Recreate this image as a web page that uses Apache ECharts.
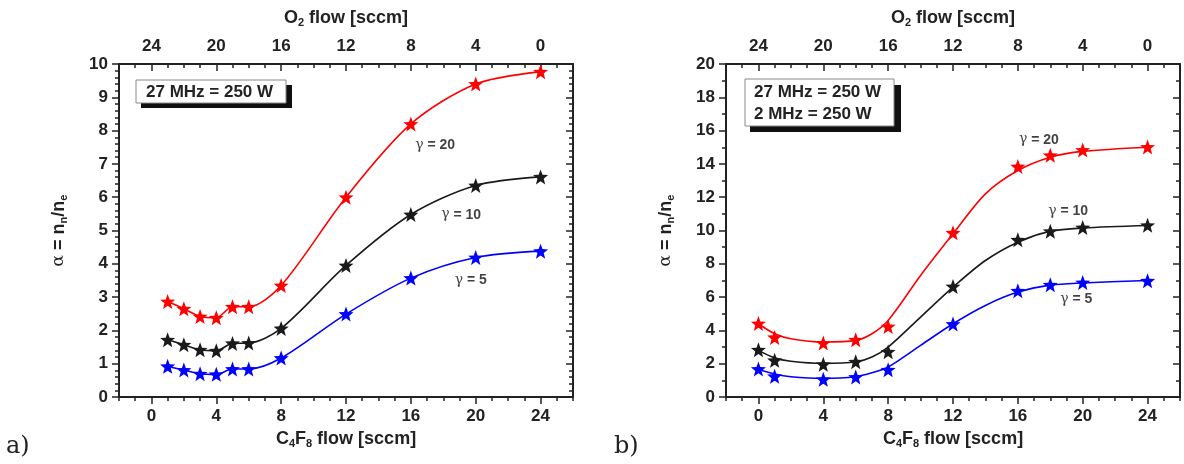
<!DOCTYPE html>
<html>
<head>
<meta charset="utf-8">
<script src="https://cdn.jsdelivr.net/npm/echarts@6.0.0/dist/echarts.min.js"></script>
<style>
  html, body { margin: 0; padding: 0; background: #fff; }
  #chart { width: 1184px; height: 464px; }
</style>
</head>
<body>
<div id="chart"></div>
<script>
// ---- values ----
// bottom axis = C4F8 flow, top axis = O2 flow (O2 = 24 - C4F8)
var c4f8Ticks = [0, 4, 8, 12, 16, 20, 24];
var o2Ticks = [24, 20, 16, 12, 8, 4, 0];
var yTicksA = [0, 1, 2, 3, 4, 5, 6, 7, 8, 9, 10];
var yTicksB = [0, 2, 4, 6, 8, 10, 12, 14, 16, 18, 20];

// a) 27 MHz = 250 W
var flowA = [1, 2, 3, 4, 5, 6, 8, 12, 16, 20, 24];
var alphaA20 = [2.87, 2.65, 2.42, 2.38, 2.71, 2.71, 3.35, 6.0, 8.2, 9.4, 9.77];
var alphaA10 = [1.72, 1.57, 1.42, 1.39, 1.61, 1.62, 2.06, 3.95, 5.48, 6.35, 6.61];
var alphaA5 = [0.92, 0.81, 0.70, 0.68, 0.84, 0.84, 1.17, 2.49, 3.57, 4.19, 4.38];

// b) 27 MHz = 250 W, 2 MHz = 250 W
var flowB = [0, 1, 4, 6, 8, 12, 16, 18, 20, 24];
var alphaB20 = [4.42, 3.58, 3.24, 3.44, 4.24, 9.86, 13.84, 14.52, 14.84, 15.02];
var alphaB10 = [2.84, 2.2, 1.96, 2.12, 2.72, 6.64, 9.44, 9.96, 10.18, 10.32];
var alphaB5 = [1.68, 1.24, 1.06, 1.2, 1.64, 4.38, 6.38, 6.74, 6.88, 6.98];
// fitted curves drawn in panel b
var fitFlowB = [0, 1, 2, 4, 6, 7, 8, 10, 12, 14, 16, 18, 20, 24];
var fitB20 = [4.4, 3.8, 3.5, 3.3, 3.4, 3.8, 4.6, 7.3, 9.8, 12.2, 13.6, 14.4, 14.75, 15.0];
var fitB10 = [2.8, 2.35, 2.15, 2.02, 2.1, 2.4, 3.0, 4.8, 6.6, 8.2, 9.3, 9.95, 10.15, 10.3];
var fitB5 = [1.65, 1.38, 1.22, 1.12, 1.22, 1.45, 1.8, 3.1, 4.4, 5.5, 6.3, 6.72, 6.85, 7.0];

// gamma labels [text, c4f8, alpha]
var gammaA = [['20', 17.5, 7.55], ['10', 19.1, 5.47], ['5', 19.7, 3.5]];
var gammaB = [['20', 17.3, 15.45], ['10', 19.1, 11.15], ['5', 19.6, 5.85]];

var RED = '#ff0000', BLACK = '#1a1a1a', BLUE = '#0000ff';
var INK = '#222';
var FONT = 'Liberation Sans';
var STAR = 'path://M0,-10L2.47,-3.4L9.51,-3.09L3.99,1.3L5.88,8.09L0,4.2L-5.88,8.09L-3.99,1.3L-9.51,-3.09L-2.47,-3.4Z';

function zip(xs, ys) {
  return xs.map(function (x, i) { return [x, ys[i]]; });
}

var lineW = { color: INK, width: 2 };
var subRich = {
  b: { fontFamily: FONT, fontWeight: 'bold', fontSize: 18, color: INK },
  s: { fontFamily: FONT, fontWeight: 'bold', fontSize: 11, color: INK, padding: [9, 0, 0, 0] },
  a: { fontFamily: 'DejaVu Serif', fontSize: 17, color: INK }
};

// four x axes per grid: bottom labels + short ticks, bottom long ticks, top labels + short ticks, top long ticks
function makeXAxes(g) {
  var base = { gridIndex: g, type: 'value', min: -2, max: 26, interval: 1, splitLine: { show: false } };
  return [
    Object.assign({}, base, {
      position: 'bottom',
      axisLine: { show: true, onZero: false, lineStyle: lineW },
      axisTick: { show: true, inside: false, length: 4, lineStyle: { color: INK, width: 1.5 } },
      axisLabel: {
        margin: 11, color: INK, fontFamily: FONT, fontWeight: 'bold', fontSize: 17,
        formatter: function (v) { return c4f8Ticks.indexOf(v) >= 0 ? String(v) : ''; }
      },
      name: '{b|C}{s|4}{b|F}{s|8}{b| flow [sccm]}',
      nameLocation: 'middle', nameGap: 32,
      nameTextStyle: { rich: subRich }
    }),
    Object.assign({}, base, {
      position: 'bottom',
      axisLine: { show: false, onZero: false },
      axisTick: { show: true, inside: false, length: 7, customValues: c4f8Ticks, lineStyle: { color: INK, width: 1.5 } },
      axisLabel: { show: false }
    }),
    Object.assign({}, base, {
      position: 'top', inverse: true,
      axisLine: { show: true, onZero: false, lineStyle: lineW },
      axisTick: { show: true, inside: true, length: 4, lineStyle: { color: INK, width: 1.5 } },
      axisLabel: {
        margin: 9, color: INK, fontFamily: FONT, fontWeight: 'bold', fontSize: 17,
        formatter: function (v) { return o2Ticks.indexOf(v) >= 0 ? String(v) : ''; }
      },
      name: '{b|O}{s|2}{b| flow [sccm]}',
      nameLocation: 'middle', nameGap: 36,
      nameTextStyle: { rich: subRich }
    }),
    Object.assign({}, base, {
      position: 'top', inverse: true,
      axisLine: { show: false, onZero: false },
      axisTick: { show: true, inside: true, length: 7, customValues: o2Ticks, lineStyle: { color: INK, width: 1.5 } },
      axisLabel: { show: false }
    })
  ];
}

function makeYAxes(g, ticks, minorSplit) {
  var base = {
    gridIndex: g, type: 'value',
    min: ticks[0], max: ticks[ticks.length - 1], interval: ticks[1] - ticks[0],
    splitLine: { show: false },
    minorTick: { show: true, splitNumber: minorSplit, length: 4, lineStyle: { color: INK, width: 1.5 } },
    minorSplitLine: { show: false }
  };
  return [
    Object.assign({}, base, {
      position: 'left',
      axisLine: { show: true, onZero: false, lineStyle: lineW },
      axisTick: { show: true, inside: false, length: 7, lineStyle: { color: INK, width: 1.5 } },
      axisLabel: { margin: 11, color: INK, fontFamily: FONT, fontWeight: 'bold', fontSize: 17 },
      name: '{a|α}{b| = n}{s|n}{b|/n}{s|e}',
      nameLocation: 'middle', nameGap: 50, nameRotate: 90,
      nameTextStyle: { rich: subRich }
    }),
    Object.assign({}, base, {
      position: 'right',
      axisLine: { show: true, onZero: false, lineStyle: lineW },
      axisTick: { show: true, inside: true, length: 7, lineStyle: { color: INK, width: 1.5 } },
      axisLabel: { show: false }
    })
  ];
}

function curve(xi, yi, xs, ys, color, withStars) {
  return {
    type: 'line', xAxisIndex: xi, yAxisIndex: yi,
    data: zip(xs, ys),
    smooth: 0.3,
    symbol: withStars ? STAR : 'none', symbolSize: 15, showSymbol: withStars,
    itemStyle: { color: color, opacity: 1 },
    lineStyle: { color: color, width: 1.6 },
    z: 3
  };
}

function stars(xi, yi, xs, ys, color) {
  return {
    type: 'scatter', xAxisIndex: xi, yAxisIndex: yi,
    data: zip(xs, ys),
    symbol: STAR, symbolSize: 15,
    itemStyle: { color: color, opacity: 1 },
    z: 4
  };
}

function gammaLabels(xi, yi, list) {
  return {
    type: 'scatter', xAxisIndex: xi, yAxisIndex: yi,
    data: list.map(function (d) { return [d[1], d[2], d[0]]; }),
    symbolSize: 1, itemStyle: { color: 'rgba(0,0,0,0)' },
    silent: true,
    label: {
      show: true, position: 'inside',
      formatter: function (p) { return '{g|γ}{t| = ' + p.value[2] + '}'; },
      rich: {
        g: { fontFamily: 'DejaVu Serif', fontSize: 14, color: '#111' },
        t: { fontFamily: FONT, fontWeight: 'bold', fontSize: 14, color: '#111' }
      }
    },
    z: 5
  };
}

var chart = echarts.init(document.getElementById('chart'));

var option = {
  backgroundColor: '#fff',
  animation: false,
  grid: [
    { left: 119, width: 454, top: 64, height: 333 },
    { left: 726, width: 454, top: 64, height: 333 }
  ],
  xAxis: makeXAxes(0).concat(makeXAxes(1)),
  yAxis: makeYAxes(0, yTicksA, 5).concat(makeYAxes(1, yTicksB, 2)),
  series: [
    curve(0, 0, flowA, alphaA20, RED, true),
    curve(0, 0, flowA, alphaA10, BLACK, true),
    curve(0, 0, flowA, alphaA5, BLUE, true),
    gammaLabels(0, 0, gammaA),

    curve(4, 2, fitFlowB, fitB20, RED, false),
    curve(4, 2, fitFlowB, fitB10, BLACK, false),
    curve(4, 2, fitFlowB, fitB5, BLUE, false),
    stars(4, 2, flowB, alphaB20, RED),
    stars(4, 2, flowB, alphaB10, BLACK),
    stars(4, 2, flowB, alphaB5, BLUE),
    gammaLabels(4, 2, gammaB)
  ],
  graphic: [
    // info boxes with drop shadow
    { type: 'rect', shape: { x: 141, y: 85, width: 151, height: 23 }, style: { fill: '#111' } },
    { type: 'rect', shape: { x: 136, y: 80, width: 150, height: 23 }, style: { fill: '#fff', stroke: '#888', lineWidth: 1 } },
    { type: 'text', x: 146, y: 92, style: { text: '27 MHz = 250 W', font: 'bold 17px "Liberation Sans"', fill: INK, verticalAlign: 'middle' } },

    { type: 'rect', shape: { x: 750, y: 85, width: 151, height: 47 }, style: { fill: '#111' } },
    { type: 'rect', shape: { x: 745, y: 79, width: 149, height: 47 }, style: { fill: '#fff', stroke: '#888', lineWidth: 1 } },
    { type: 'text', x: 754, y: 92, style: { text: '27 MHz = 250 W', font: 'bold 17px "Liberation Sans"', fill: INK, verticalAlign: 'middle' } },
    { type: 'text', x: 754, y: 114, style: { text: '2 MHz = 250 W', font: 'bold 17px "Liberation Sans"', fill: INK, verticalAlign: 'middle' } },

    // panel letters
    { type: 'text', x: 6, y: 447, style: { text: 'a)', font: '24px "DejaVu Serif"', fill: INK, verticalAlign: 'middle' } },
    { type: 'text', x: 614, y: 447, style: { text: 'b)', font: '24px "DejaVu Serif"', fill: INK, verticalAlign: 'middle' } }
  ]
};

chart.setOption(option);
</script>
</body>
</html>
